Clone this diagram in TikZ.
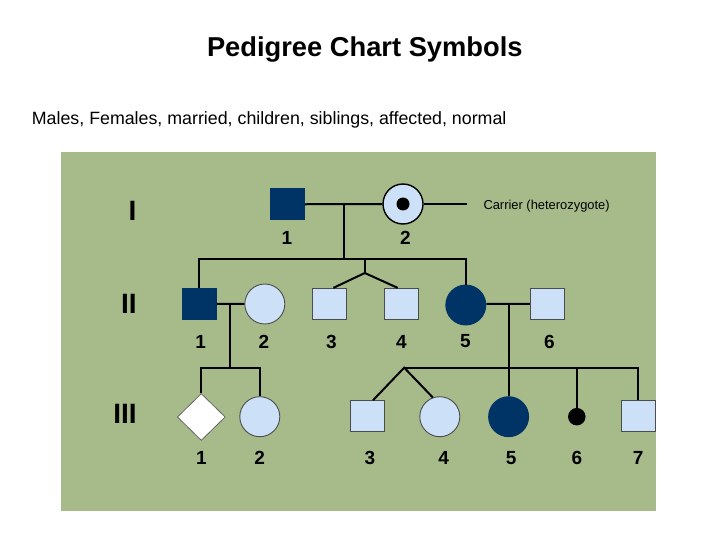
\documentclass[tikz,border=0pt]{standalone}
\usepackage{fontspec}
\setmainfont{Liberation Sans}
\usetikzlibrary{shapes.geometric}
\definecolor{Sage}{RGB}{167,187,138}
\definecolor{Navy}{RGB}{0,51,102}
\definecolor{Pale}{RGB}{204,224,247}

\begin{document}
\begin{tikzpicture}[x=1pt,y=-1pt,
    male/.style={draw=black!70,line width=0.9pt,fill=Pale,minimum width=34pt,minimum height=31pt,inner sep=0pt},
    female/.style={circle,draw=black!70,line width=0.9pt,fill=Pale,minimum size=40pt,inner sep=0pt},
    ill/.style={draw=Navy,fill=Navy},
    num/.style={font=\bfseries\fontsize{19}{19}\selectfont},
    gen/.style={font=\bfseries\fontsize{28}{28}\selectfont},
    link/.style={line width=2pt}]
  \fill[white] (0,0) rectangle (720,540);
  \fill[Sage] (61,152) rectangle (655.5,511);
  \node[font=\bfseries\fontsize{27.3}{30}\selectfont,anchor=base] (title) at (364.8,56.7) {Pedigree Chart Symbols};
  \node[font=\fontsize{17.8}{20}\selectfont,anchor=base west,inner sep=0pt] (sub) at (31.7,125) {Males, Females, married, children, siblings, affected, normal};
  % generations
  \node[gen] (genI) at (132.5,210.7) {I};
  \node[gen] (genII) at (128.8,304.2) {II};
  \node[gen] (genIII) at (125,414) {III};
  % generation I
  \node[male,ill] (I1) at (287.3,204.3) {};
  \node[female,draw=black,line width=1.4pt] (I2) at (403,204) {};
  \node[circle,fill=black,minimum size=13pt,inner sep=0pt] (I2dot) at (I2) {};
  \coordinate (cr) at (467,204);
  \draw[line width=2.6pt] (I2.east) -- (cr);
  \node[font=\fontsize{12.9}{14}\selectfont,anchor=base west,inner sep=0pt] (carrier) at (483.3,209.3) {Carrier (heterozygote)};
  \node[num] (nI1) at (287,238.2) {1};
  \node[num] (nI2) at (405.3,238.2) {2};
  % generation II
  \node[male,ill] (II1) at (199.2,303.8) {};
  \node[female] (II2) at (264.8,304) {};
  \node[male] (II3) at (329.2,303.8) {};
  \node[male] (II4) at (401.9,303.8) {};
  \node[female,ill] (II5) at (465.8,305) {};
  \node[male] (II6) at (547.4,303.8) {};
  \node[num] (nII1) at (200.7,341.5) {1};
  \node[num] (nII2) at (263.8,341.5) {2};
  \node[num] (nII3) at (331.5,341.5) {3};
  \node[num] (nII4) at (401.5,341.5) {4};
  \node[num] (nII5) at (465.4,341.5) {5};
  \node[num] (nII6) at (549.5,341.5) {6};
  % generation III
  \node[diamond,draw=black!60,line width=0.8pt,fill=white,minimum width=48pt,minimum height=47pt,inner sep=0pt] (III1) at (201.3,417) {};
  \node[female] (III2) at (259.8,416.7) {};
  \node[male] (III3) at (367.5,416.2) {};
  \node[female] (III4) at (439.8,416.7) {};
  \node[female,ill] (III5) at (508.6,416.7) {};
  \node[circle,fill=black,minimum size=17.5pt,inner sep=0pt] (III6) at (576.8,416.7) {};
  \node[male] (III7) at (638,416.2) {};
  \node[num] (nIII1) at (201.5,458.3) {1};
  \node[num] (nIII2) at (259.6,458.3) {2};
  \node[num] (nIII3) at (369.8,458.3) {3};
  \node[num] (nIII4) at (443.6,458.3) {4};
  \node[num] (nIII5) at (511.2,458.3) {5};
  \node[num] (nIII6) at (577,458.3) {6};
  \node[num] (nIII7) at (638.2,458.3) {7};
  % lines of descent
  \coordinate (mI) at (343.7,204);
  \coordinate (sI) at (343.7,259);
  \coordinate (tw) at (364.8,273);
  \draw[link] (I1) -- (I2);
  \draw[link] (mI) -- (sI);
  \draw[link] (II1.north) -- (II1.north |- sI) -- (II5.north |- sI) -- (II5.north);
  \draw[link] (tw |- sI) -- (tw);
  \draw[link] (II3.75) -- (tw) -- (II4.105);
  \coordinate (mII) at (230.2,304);
  \coordinate (sII) at (230.2,367.7);
  \draw[link] (II1) -- (II2);
  \draw[link] (mII) -- (sII);
  \draw[link] (III1.north) -- (III1.north |- sII) -- (III2.north |- sII) -- (III2.north);
  \coordinate (mIIb) at (508.6,304);
  \coordinate (tw3) at (404.2,367.7);
  \draw[link] (II5.east |- mIIb) -- (II6);
  \draw[link] (mIIb) -- (III5.north);
  \draw[link] (tw3) -- (III7.north |- tw3) -- (III7.north);
  \draw[link] (III6.north |- tw3) -- (III6.north);
  \draw[link] (III3.71) -- (tw3) -- (III4.110);
\end{tikzpicture}
\end{document}
